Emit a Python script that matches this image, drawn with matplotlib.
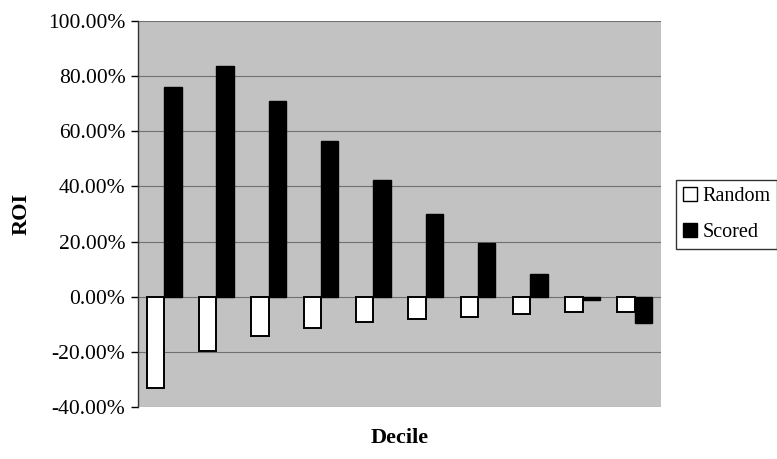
import matplotlib
matplotlib.use("Agg")
import matplotlib.pyplot as plt
import numpy as np
from matplotlib.patches import Patch

deciles = list(range(1, 11))
random_roi = [-0.33, -0.197, -0.143, -0.115, -0.092, -0.082, -0.072, -0.064, -0.054, -0.054]
scored_roi = [0.759, 0.837, 0.709, 0.564, 0.425, 0.299, 0.194, 0.083, -0.012, -0.094]
yticks = [-0.4, -0.2, 0.0, 0.2, 0.4, 0.6, 0.8, 1.0]

plt.rcParams['font.family'] = ['Liberation Serif', 'DejaVu Serif']

fig = plt.figure(figsize=(7.77, 4.59), dpi=100)
ax = fig.add_axes([138/777, 1-407/459, (661-138)/777, (407-21)/459])
ax.set_facecolor('#c2c2c2')

x = np.arange(len(deciles)) + 0.5
w = 1/3
ax.bar(x - w/2, random_roi, width=w, color='white', edgecolor='black', linewidth=1.4, zorder=3)
ax.bar(x + w/2, scored_roi, width=w, color='black', edgecolor='black', linewidth=1.0, zorder=3)

ax.set_xlim(0, len(deciles))
ax.set_ylim(-0.4, 1.0)
ax.set_yticks(yticks)
ax.set_yticklabels([f"{v*100:.2f}%" for v in yticks], fontsize=15.5)
ax.set_xticks([])
ax.yaxis.grid(True, color='#707070', linewidth=0.8, zorder=1)
ax.set_axisbelow(True)
for s in ['top', 'right', 'bottom']:
    ax.spines[s].set_visible(False)
ax.spines['left'].set_color('#333333')
ax.spines['left'].set_linewidth(1.0)
ax.tick_params(axis='y', direction='out', length=5, width=1, pad=4, colors='black')

ax.set_ylabel('ROI', fontsize=16, fontweight='bold', labelpad=12)
fig.text((138+661)/2/777, 1-438/459, 'Decile', fontsize=16, fontweight='bold', ha='center', va='center')

handles = [Patch(facecolor='white', edgecolor='black', linewidth=1.0, label='Random'),
           Patch(facecolor='black', edgecolor='black', label='Scored')]
leg = fig.legend(handles=handles, loc='upper left', bbox_to_anchor=(676/777, 1-180/459),
                 frameon=True, fancybox=False, edgecolor='black', fontsize=14.5,
                 handlelength=0.7, handleheight=0.7, handletextpad=0.25,
                 borderpad=0.35, labelspacing=0.85, borderaxespad=0)
leg.get_frame().set_linewidth(1.0)

fig.savefig('out.png', dpi=100, facecolor='white')
